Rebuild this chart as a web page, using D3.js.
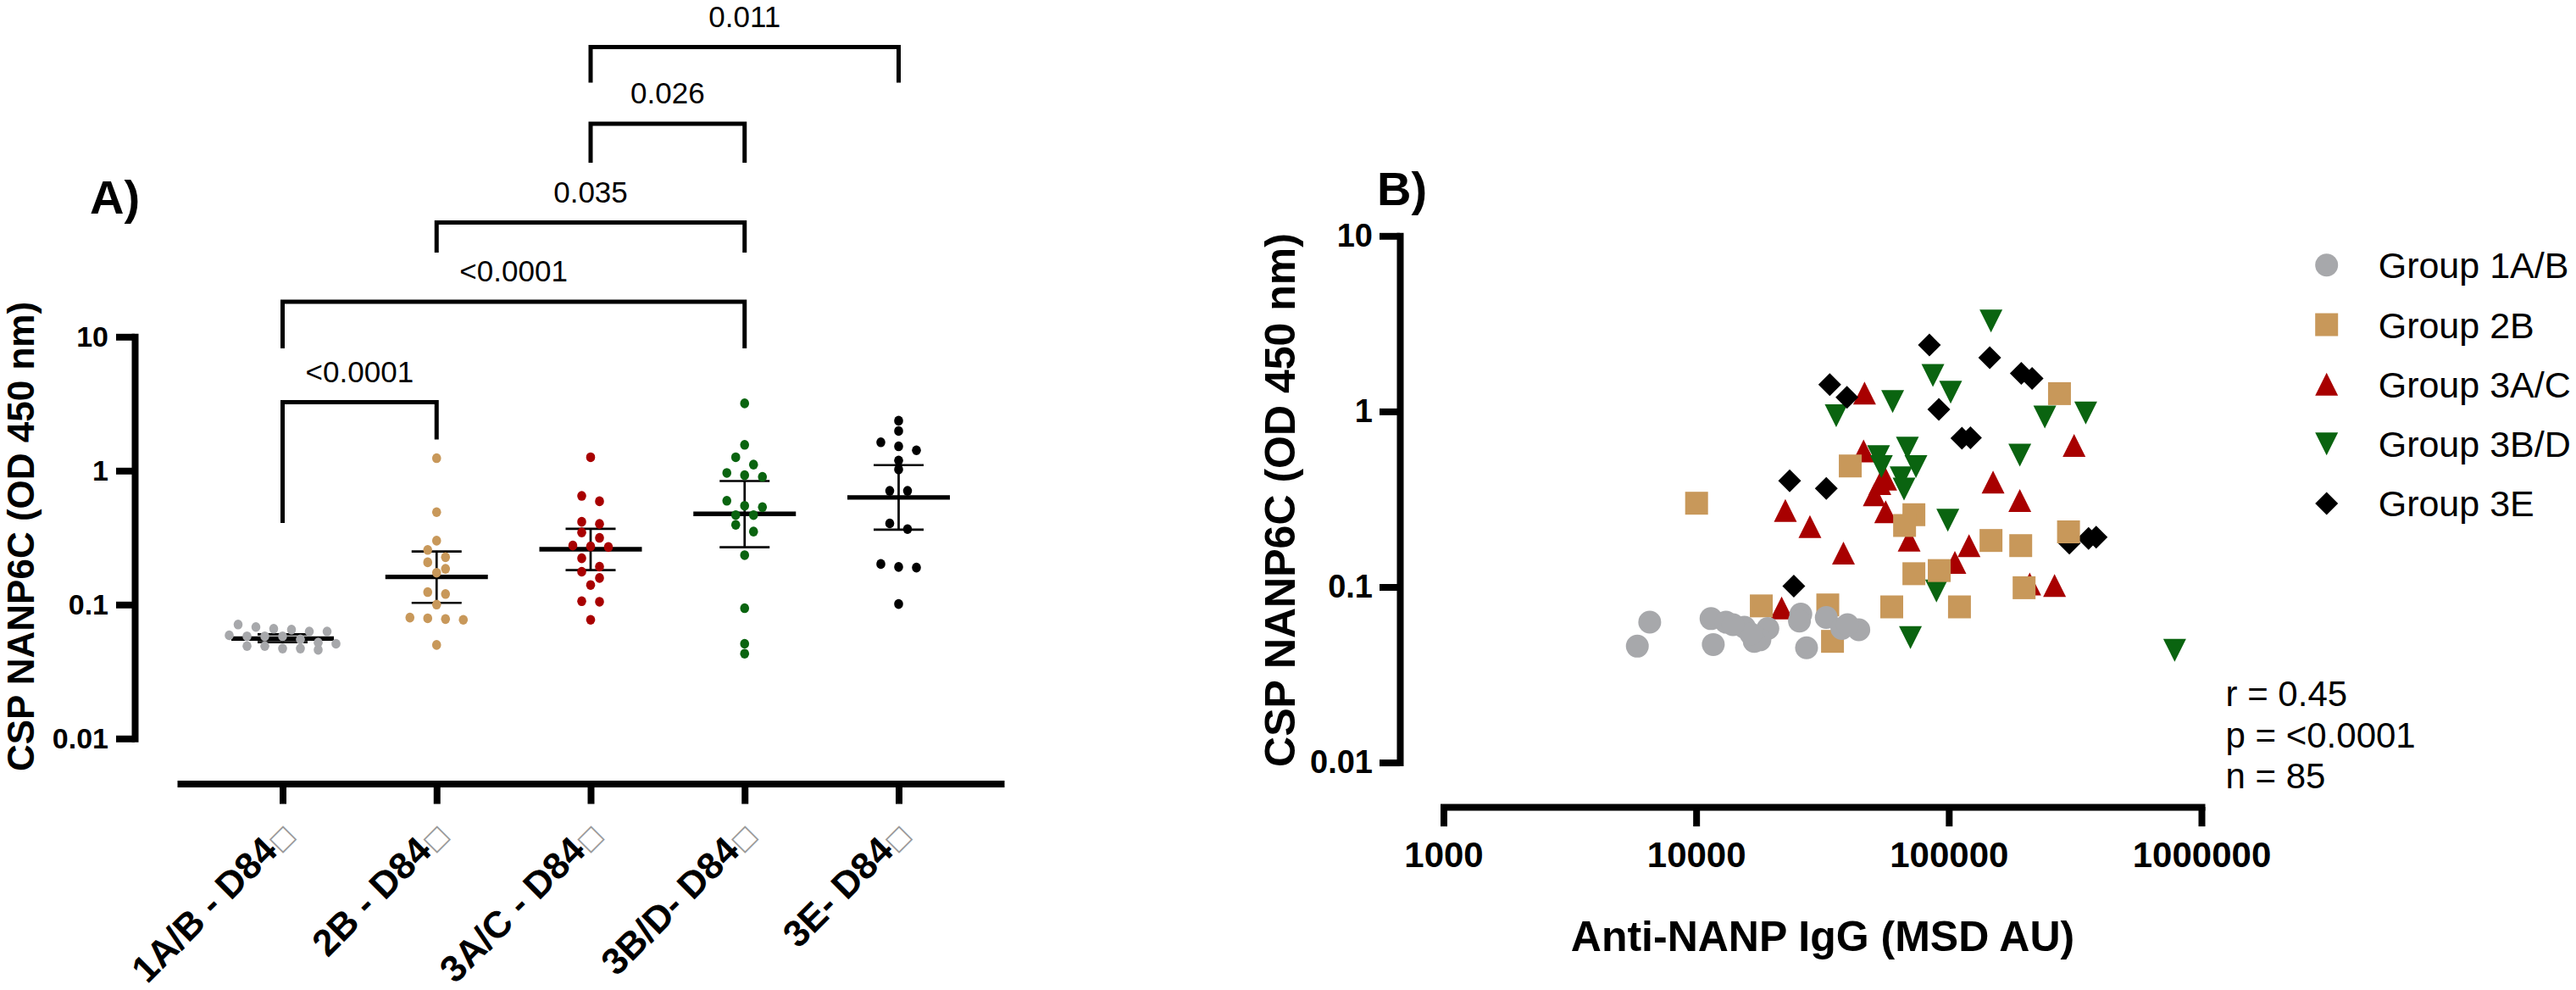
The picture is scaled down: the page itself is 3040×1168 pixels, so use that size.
<!DOCTYPE html>
<html>
<head>
<meta charset="utf-8">
<title>CSP NANP6C</title>
<script src="https://d3js.org/d3.v7.min.js"></script>
<style>
  body { margin: 0; background: #fff; }
  text { font-family: Arial, "Liberation Sans", sans-serif; }
</style>
</head>
<body>
<div id="chart"></div>
<script>
// ---------- data ----------
const groupLabels = ["1A/B - D84", "2B - D84", "3A/C - D84", "3B/D- D84", "3E- D84"];
const legendLabels = ["Group 1A/B", "Group 2B", "Group 3A/C", "Group 3B/D", "Group 3E"];
const colors = ["#a7a8ab", "#c8985a", "#a80000", "#0a6410", "#000000"];

// panel A: OD per animal
const odA1 = [0.066, 0.058, 0.047, 0.063, 0.052, 0.068, 0.058, 0.049, 0.051, 0.065, 0.055, 0.046, 0.058, 0.049, 0.071, 0.059, 0.047, 0.063];
const odA2 = [1.24, 0.49, 0.30, 0.256, 0.226, 0.207, 0.185, 0.173, 0.120, 0.124, 0.100, 0.080, 0.078, 0.077, 0.079, 0.050];
const odA3 = [1.26, 0.648, 0.591, 0.415, 0.400, 0.346, 0.315, 0.269, 0.272, 0.276, 0.222, 0.192, 0.176, 0.158, 0.140, 0.106, 0.105, 0.077];
const odA4 = [3.18, 1.56, 1.26, 1.11, 0.962, 0.900, 0.926, 0.596, 0.547, 0.534, 0.466, 0.466, 0.394, 0.351, 0.234, 0.094, 0.051, 0.043];
const odA5 = [2.36, 1.98, 1.52, 1.63, 1.42, 1.19, 1.02, 0.707, 0.707, 0.366, 0.404, 0.201, 0.189, 0.191, 0.101];

// centre line and error bar ends
const centerA = [0.0558, 0.161, 0.259, 0.476, 0.632];
const lowA = [0.0524, 0.103, 0.181, 0.268, 0.363];
const highA = [0.060, 0.249, 0.368, 0.837, 1.10];

// comparisons: [from, to, p]
const comparisons = [
  [0, 1, "<0.0001"],
  [0, 3, "<0.0001"],
  [1, 3, "0.035"],
  [2, 3, "0.026"],
  [2, 4, "0.011"]
];

const yTickValues = [0.01, 0.1, 1, 10];
const yTickLabels = ["0.01", "0.1", "1", "10"];
const xTickValuesB = [1000, 10000, 100000, 1000000];
const xTickLabelsB = ["1000", "10000", "100000", "1000000"];

// panel B: anti-NANP IgG (x) vs OD (y)
const igg1 = [6550, 5850, 11450, 13120, 15520, 19220, 17880, 16980, 11690, 25960, 25640, 27350, 32740, 37730, 44040, 16480, 13990, 39720];
const od1 = [0.063, 0.046, 0.066, 0.063, 0.059, 0.058, 0.050, 0.049, 0.047, 0.070, 0.064, 0.045, 0.067, 0.058, 0.057, 0.054, 0.061, 0.061];
const igg2 = [10040, 40740, 18110, 33190, 34650, 274200, 72740, 66830, 146900, 192600, 297700, 72740, 91650, 198600, 59460, 110200];
const od2 = [0.300, 0.489, 0.078, 0.079, 0.049, 1.263, 0.258, 0.224, 0.184, 0.172, 0.206, 0.119, 0.124, 0.099, 0.077, 0.077];
const igg3 = [56230, 50700, 56230, 69660, 120200, 105700, 149700, 191000, 313300, 209000, 262200, 46000, 22550, 28200, 38290, 21800, 46380, 53330];
const od3 = [0.411, 0.335, 0.268, 0.185, 0.172, 0.138, 0.396, 0.311, 0.641, 0.104, 0.102, 0.595, 0.273, 0.221, 0.156, 0.076, 1.273, 0.388];
const igg4 = [146900, 86500, 101700, 59950, 239900, 348300, 68550, 191000, 74130, 52720, 54080, 64740, 66500, 99100, 89330, 70500, 783400, 35840];
const od4 = [3.275, 1.601, 1.288, 1.139, 0.928, 0.981, 0.618, 0.563, 0.485, 0.553, 0.485, 0.419, 0.361, 0.240, 0.0949, 0.0515, 0.0436, 0.946];
const igg5 = [33780, 39520, 23440, 32740, 24360, 83790, 145200, 193600, 213600, 91300, 112700, 121800, 357300, 383000, 300000];
const od5 = [1.422, 1.205, 0.403, 0.364, 0.101, 2.388, 2.022, 1.649, 1.543, 1.026, 0.703, 0.708, 0.189, 0.192, 0.178];

const statLines = ["r = 0.45", "p = <0.0001", "n = 85"];

// ---------- drawing ----------
const svg = d3.select("#chart").append("svg")
    .attr("width", 3040)
    .attr("height", 1168);

// ===== panel A =====
const yA = d3.scaleLog().domain([0.01, 10]).range([871.3, 397.3]);
const xA = d3.scalePoint().domain(d3.range(groupLabels.length)).range([209, 1185]).padding(0.685);

const yAxisA = svg.append("g")
    .attr("transform", "translate(159,0)")
    .call(d3.axisLeft(yA).tickValues(yTickValues)
        .tickFormat((d, i) => yTickLabels[i])
        .tickSize(22).tickSizeOuter(0).tickPadding(9));
styleAxis(yAxisA, 34, "square");

const xAxisA = svg.append("g")
    .attr("transform", "translate(0,924.5)")
    .call(d3.axisBottom(xA).tickSize(24).tickSizeOuter(0).tickFormat(""));
styleAxis(xAxisA, 34, "butt");

// rotated group labels
groupLabels.forEach((lab, i) => {
  const t = svg.append("text")
      .attr("transform", "translate(" + (xA(i) + 16) + ",986) rotate(-45)")
      .attr("text-anchor", "end")
      .attr("font-size", "44px")
      .attr("font-weight", "bold")
      .text(lab);
  t.append("tspan")
      .attr("font-family", "DejaVu Sans")
      .attr("font-weight", "normal")
      .attr("font-size", "30px")
      .attr("fill", "#9a9a9a")
      .text("\u25A1");
});

// error bars + centre lines
const odA = [odA1, odA2, odA3, odA4, odA5];
const bars = svg.append("g");
odA.forEach((vals, i) => {
  const cx = xA(i);
  bars.append("line")
      .attr("x1", cx).attr("x2", cx)
      .attr("y1", yA(highA[i])).attr("y2", yA(lowA[i]))
      .attr("stroke", "#000").attr("stroke-width", 2.7);
  [highA[i], lowA[i]].forEach(v => {
    bars.append("line")
        .attr("x1", cx - 29.5).attr("x2", cx + 29.5)
        .attr("y1", yA(v)).attr("y2", yA(v))
        .attr("stroke", "#000").attr("stroke-width", 2.7);
  });
  bars.append("line")
      .attr("x1", cx - 60.5).attr("x2", cx + 60.5)
      .attr("y1", yA(centerA[i])).attr("y2", yA(centerA[i]))
      .attr("stroke", "#000").attr("stroke-width", 5.3);
});

// scatter dots, spread sideways in rows like a column scatter
function spread(vals, cx) {
  const pts = vals.map(v => ({v: v, y: yA(v)})).sort((a, b) => a.y - b.y);
  const rows = [];
  pts.forEach(p => {
    const row = rows[rows.length - 1];
    if (row && p.y - row[0].y < 10) row.push(p);
    else rows.push([p]);
  });
  rows.forEach(row => row.forEach((p, k) => {
    p.x = cx + (k - (row.length - 1) / 2) * 21;
  }));
  return pts;
}

odA.forEach((vals, i) => {
  svg.append("g").selectAll("ellipse")
      .data(spread(vals, xA(i)))
      .enter()
      .append("ellipse")
          .attr("cx", d => d.x)
          .attr("cy", d => d.y)
          .attr("rx", 5.3)
          .attr("ry", 5.8)
          .attr("fill", colors[i]);
});

// significance brackets
const bracketLayout = [
  {top: 474.5, left: 617, right: 518.6},
  {top: 356, left: 411, right: 411},
  {top: 262.5, left: 298, right: 298},
  {top: 146, left: 192, right: 192},
  {top: 55.5, left: 97.6, right: 97.6}
];
comparisons.forEach((c, k) => {
  const L = bracketLayout[k];
  const x1 = xA(c[0]), x2 = xA(c[1]);
  svg.append("path")
      .attr("d", "M" + x1 + "," + L.left + "V" + L.top + "H" + x2 + "V" + L.right)
      .attr("fill", "none")
      .attr("stroke", "#000")
      .attr("stroke-width", 5);
  svg.append("text")
      .attr("x", (x1 + x2) / 2)
      .attr("y", L.top - 24)
      .attr("text-anchor", "middle")
      .attr("font-size", "35px")
      .text(c[2]);
});

svg.append("text")
    .attr("x", 106).attr("y", 252)
    .attr("font-size", "56px").attr("font-weight", "bold")
    .text("A)");

svg.append("text")
    .attr("transform", "translate(40,633) rotate(-90)")
    .attr("text-anchor", "middle")
    .attr("font-size", "44px").attr("font-weight", "bold")
    .text("CSP NANP6C (OD 450 nm)");

// ===== panel B =====
const xB = d3.scaleLog().domain([1000, 1000000]).range([1703.5, 2598]);
const yB = d3.scaleLog().domain([0.01, 10]).range([899.6, 278.3]);

const yAxisB = svg.append("g")
    .attr("transform", "translate(1652,0)")
    .call(d3.axisLeft(yB).tickValues(yTickValues)
        .tickFormat((d, i) => yTickLabels[i])
        .tickSize(24).tickSizeOuter(0).tickPadding(8));
styleAxis(yAxisB, 38, "square");

const xAxisB = svg.append("g")
    .attr("transform", "translate(0,952)")
    .call(d3.axisBottom(xB).tickValues(xTickValuesB)
        .tickFormat((d, i) => xTickLabelsB[i])
        .tickSize(23).tickSizeOuter(0).tickPadding(18));
styleAxis(xAxisB, 42, "square");

// marker shapes, 27px across
const half = 13.5;
const shapes = [
  null,
  "M" + -half + "," + -half + "H" + half + "V" + half + "H" + -half + "Z",
  "M0," + -half + "L" + half + "," + half + "H" + -half + "Z",
  "M0," + half + "L" + half + "," + -half + "H" + -half + "Z",
  "M0," + -half + "L" + half + ",0L0," + half + "L" + -half + ",0Z"
];
function marker(g, i, x, y) {
  if (i === 0) {
    g.append("circle").attr("cx", x).attr("cy", y).attr("r", half).attr("fill", colors[i]);
  } else {
    g.append("path").attr("d", shapes[i])
        .attr("transform", "translate(" + x + "," + y + ")")
        .attr("fill", colors[i]);
  }
}

const iggB = [igg1, igg2, igg3, igg4, igg5];
const odB = [od1, od2, od3, od4, od5];
// drawing order seen in the picture (bottom to top)
[2, 3, 4, 1, 0].forEach(i => {
  const g = svg.append("g");
  iggB[i].forEach((x, k) => marker(g, i, xB(x), yB(odB[i][k])));
});

// legend
const legY = d3.scalePoint().domain(d3.range(legendLabels.length)).range([312.7, 594]);
legendLabels.forEach((lab, i) => {
  marker(svg, i, 2745.7, legY(i));
  svg.append("text")
      .attr("x", 2806.7).attr("y", legY(i))
      .attr("dy", "0.36em")
      .attr("font-size", "43px")
      .text(lab);
});

statLines.forEach((s, i) => {
  svg.append("text")
      .attr("x", 2626.5).attr("y", 833 + i * 48.5)
      .attr("font-size", "42px")
      .text(s);
});

svg.append("text")
    .attr("x", 1625).attr("y", 242)
    .attr("font-size", "56px").attr("font-weight", "bold")
    .text("B)");

svg.append("text")
    .attr("transform", "translate(1528,590) rotate(-90)")
    .attr("text-anchor", "middle")
    .attr("font-size", "50px").attr("font-weight", "bold")
    .text("CSP NANP6C (OD 450 nm)");

svg.append("text")
    .attr("x", 2151).attr("y", 1122)
    .attr("text-anchor", "middle")
    .attr("font-size", "50px").attr("font-weight", "bold")
    .text("Anti-NANP IgG (MSD AU)");

function styleAxis(g, fontSize, cap) {
  g.select(".domain").attr("stroke", "#000").attr("stroke-width", 8).attr("stroke-linecap", cap);
  g.selectAll(".tick line").attr("stroke", "#000").attr("stroke-width", 8);
  g.selectAll(".tick text")
      .attr("fill", "#000")
      .attr("font-family", "Arial, 'Liberation Sans', sans-serif")
      .attr("font-size", fontSize + "px")
      .attr("font-weight", "bold");
}
</script>
</body>
</html>
